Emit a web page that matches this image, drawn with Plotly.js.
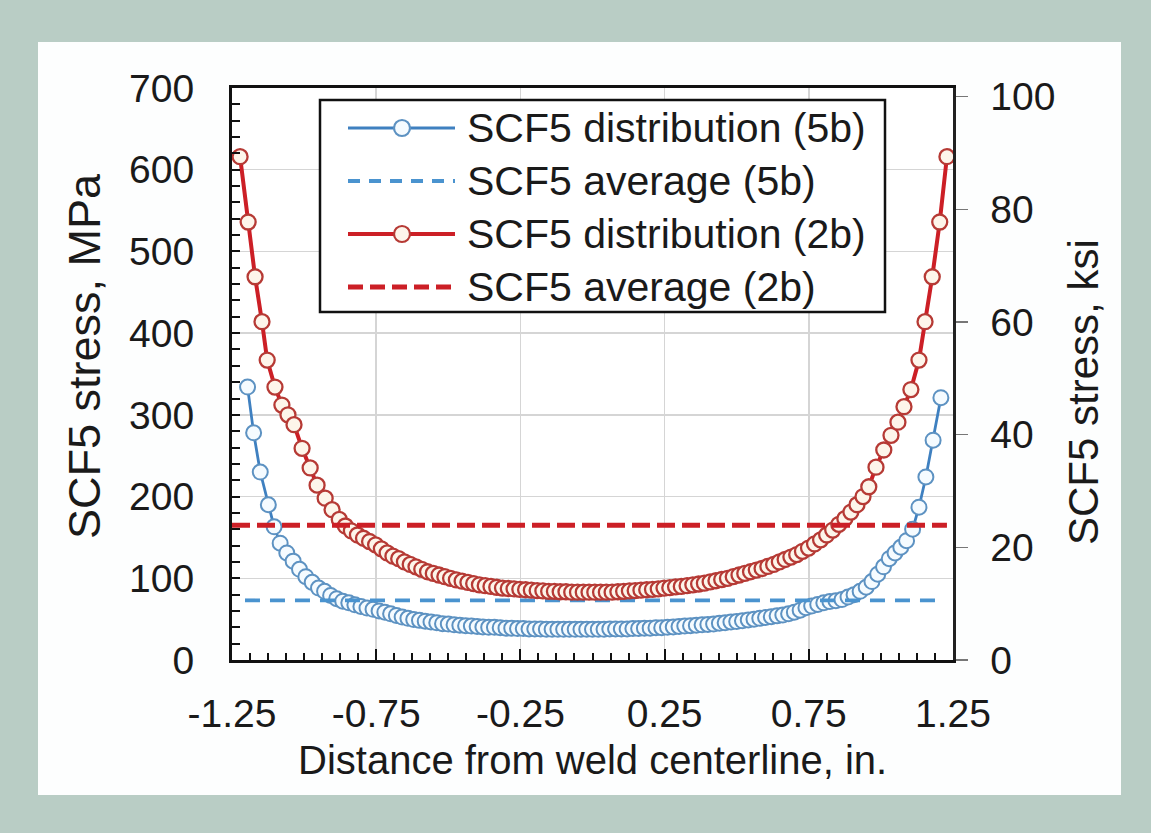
<!DOCTYPE html>
<html>
<head>
<meta charset="utf-8">
<script src="https://cdn.plot.ly/plotly-3.0.1.min.js"></script>
<style>
html, body { margin:0; padding:0; width:1151px; height:833px; background:#b9cdc5; overflow:hidden; }
#chart { position:absolute; left:38px; top:42px; width:1083px; height:753px; background:#fdfefe; }
</style>
</head>
<body>
<div id="chart"></div>
<script>
// ---------------- data ----------------
// SCF5 distribution (2b), distance in inches, stress in MPa
const x2b = [
 -1.222,-1.194,-1.170,-1.146,-1.128,-1.101,-1.077,-1.056,-1.035,-1.007,
 -0.979,-0.955,-0.927,-0.903,-0.878,-0.857,-0.836,-0.815,-0.794,-0.773,
 -0.752,-0.732,-0.712,-0.692,-0.672,-0.652,-0.632,-0.612,-0.592,-0.572,
 -0.552,-0.532,-0.512,-0.492,-0.472,-0.452,-0.432,-0.412,-0.392,-0.372,
 -0.352,-0.332,-0.312,-0.292,-0.272,-0.252,-0.232,-0.212,-0.192,-0.172,
 -0.152,-0.132,-0.112,-0.092,-0.072,-0.052,-0.032,-0.012, 0.008, 0.028,
  0.048, 0.068, 0.088, 0.108, 0.128, 0.148, 0.168, 0.188, 0.208, 0.228,
  0.248, 0.268, 0.288, 0.308, 0.328, 0.348, 0.368, 0.388, 0.408, 0.428,
  0.448, 0.468, 0.488, 0.508, 0.528, 0.548, 0.568, 0.588, 0.608, 0.628,
  0.648, 0.668, 0.688, 0.708, 0.728, 0.749, 0.770, 0.791, 0.812, 0.833,
  0.854, 0.875, 0.896, 0.917, 0.938, 0.958, 0.983, 1.010, 1.035, 1.059,
  1.080, 1.104, 1.132, 1.153, 1.178, 1.204, 1.229
];
const s2b = [
  616, 536, 469, 414, 367, 334, 312, 300, 288, 259,
  235, 214, 198, 184, 172, 164, 158, 153, 149, 145,
  141, 136, 131, 127, 124, 120, 117, 114, 111, 108,
  106, 104, 102, 100, 98, 96.5, 95, 93.5, 92, 91,
  90, 89, 88, 87.5, 87, 86.5, 86, 85.5, 85, 84.5,
  84, 84, 83.5, 83.5, 83, 83, 83, 83, 83, 83,
  83, 83, 83.5, 84, 84.5, 85, 85.5, 86, 86.5, 87,
  88, 88.5, 89.5, 90, 91, 92, 93, 94, 95.5, 97,
  98.5, 100, 102, 104, 106, 108, 110, 112, 114.5, 117,
  120, 123, 126, 129, 133, 137, 142, 147, 153, 159,
  166, 173, 181, 190, 200, 212, 236, 257, 275, 291,
  310, 331, 367, 414, 469, 536, 616
];
// SCF5 distribution (5b)
const x5b = [
 -1.196,-1.175,-1.152,-1.124,-1.104,-1.083,-1.060,-1.038,-1.016,-0.994,
 -0.972,-0.950,-0.929,-0.908,-0.887,-0.866,-0.845,-0.824,-0.803,-0.782,
 -0.761,-0.740,-0.720,-0.700,-0.680,-0.660,-0.640,-0.620,-0.600,-0.580,
 -0.560,-0.540,-0.520,-0.500,-0.480,-0.460,-0.440,-0.420,-0.400,-0.380,
 -0.360,-0.340,-0.320,-0.300,-0.280,-0.260,-0.240,-0.220,-0.200,-0.180,
 -0.160,-0.140,-0.120,-0.100,-0.080,-0.060,-0.040,-0.020, 0.000, 0.020,
  0.040, 0.060, 0.080, 0.100, 0.120, 0.140, 0.160, 0.180, 0.200, 0.220,
  0.240, 0.260, 0.280, 0.300, 0.320, 0.340, 0.360, 0.380, 0.400, 0.420,
  0.440, 0.460, 0.480, 0.500, 0.520, 0.540, 0.560, 0.580, 0.600, 0.620,
  0.640, 0.660, 0.680, 0.700, 0.720, 0.740, 0.760, 0.781, 0.802, 0.823,
  0.844, 0.865, 0.886, 0.907, 0.928, 0.949, 0.969, 0.989, 1.009, 1.029,
  1.049, 1.069, 1.089, 1.110, 1.132, 1.156, 1.181, 1.208
];
const s5b = [
  334, 278, 230, 190, 163, 143, 131, 121, 111, 102,
  95, 88, 84, 79, 75, 72, 70, 67.5, 65.5, 63.5,
  62, 60, 58.5, 56.5, 54.5, 52.5, 51, 49.5, 48.5, 47.5,
  46.5, 45.5, 44.5, 44, 43, 42.5, 42, 41.5, 41, 40.5,
  40, 40, 39.5, 39, 39, 38.5, 38.5, 38, 38, 38,
  37.5, 37.5, 37.5, 37.5, 37.5, 37.5, 37.5, 37.5, 37.5, 37.5,
  37.5, 38, 38, 38, 38, 38.5, 38.5, 39, 39, 39.5,
  39.5, 40, 40.5, 41, 41.5, 42, 42.5, 43, 43.5, 44,
  45, 45.5, 46.5, 47, 48, 49, 50, 51, 52, 53,
  54, 55, 56.5, 58.5, 61, 64, 66, 68, 70, 71.5,
  72.5, 74, 77, 80, 84, 89, 96, 105, 114, 124,
  131, 138, 146, 160, 187, 224, 269, 321
];
// SCF5 averages (MPa) and the x extent over which they are drawn
const avg5b = 73;
const avg5bX = [-1.205, 1.205];
const avg2b = 165;
const avg2bX = [-1.25, 1.229];

const seriesNames = ['SCF5 distribution (5b)', 'SCF5 average (5b)', 'SCF5 distribution (2b)', 'SCF5 average (2b)'];
const xTickVals = [-1.25, -0.75, -0.25, 0.25, 0.75, 1.25];
const xTickText = ['-1.25', '-0.75', '-0.25', '0.25', '0.75', '1.25'];
const yTickVals = [0, 100, 200, 300, 400, 500, 600, 700];
const y2TickVals = [0, 20, 40, 60, 80, 100];
const yMax = 700;             // MPa
const MPA_PER_KSI = 6.894757;
const xTitle = 'Distance from weld centerline, in.';
const yTitle = 'SCF5 stress, MPa';
const y2Title = 'SCF5 stress, ksi';

// ---------------- styling ----------------
const FONT = 'Liberation Sans, Arial, Helvetica, sans-serif';
const TXT = '#1a1a1a';
const RED = '#cc1f26', RED_MK = '#b63a35', RED_FILL = '#fdf5ea';
const BLUE = '#3f80c0', BLUE_MK = '#5d92c2', BLUE_FILL = '#f5fbff', BLUE_DASH = '#4a93cf';

// page-pixel -> paper helpers (plot area spans 232..953 x 88..660 on the page)
const PL = 232, PR = 953, PT = 88, PB = 660;
const px = X => (X - PL) / (PR - PL);
const py = Y => (PB - Y) / (PB - PT);

const traces = [
  {x: x5b, y: s5b, type: 'scatter', mode: 'lines+markers', name: seriesNames[0],
   line: {color: BLUE, width: 2.8},
   marker: {symbol: 'circle', size: 15, color: BLUE_FILL, line: {color: BLUE_MK, width: 2}}},
  {x: avg5bX, y: [avg5b, avg5b], type: 'scatter', mode: 'lines', name: seriesNames[1],
   line: {color: BLUE_DASH, width: 3.8, dash: '15px,10px'}},
  {x: x2b, y: s2b, type: 'scatter', mode: 'lines+markers', name: seriesNames[2],
   line: {color: RED, width: 4},
   marker: {symbol: 'circle', size: 15, color: RED_FILL, line: {color: RED_MK, width: 2.3}}},
  {x: avg2bX, y: [avg2b, avg2b], type: 'scatter', mode: 'lines', name: seriesNames[3],
   line: {color: RED, width: 5, dash: '18px,7px'}},
  {x: [null], y: [null], yaxis: 'y2', type: 'scatter', mode: 'lines', showlegend: false, hoverinfo: 'skip'}
];

// legend drawn by hand so the sample lines match the original's long samples
const rowY = [128, 181, 234, 287];
const rowStyle = [
  {color: BLUE, width: 2.8, dash: 'solid', marker: true, mk: BLUE_MK, fill: BLUE_FILL},
  {color: BLUE_DASH, width: 3.8, dash: '12px,9px', marker: false},
  {color: RED, width: 4, dash: 'solid', marker: true, mk: RED_MK, fill: RED_FILL},
  {color: RED, width: 5, dash: '15px,7px', marker: false}
];
const shapes = [{type: 'rect', xref: 'paper', yref: 'paper', x0: px(320), x1: px(885), y0: py(312), y1: py(100),
  line: {color: '#111', width: 2.5}, fillcolor: '#ffffff', layer: 'above'}];
const annotations = [];
rowY.forEach((Y, i) => {
  const st = rowStyle[i];
  shapes.push({type: 'line', xref: 'paper', yref: 'paper', x0: px(348), x1: px(455), y0: py(Y), y1: py(Y),
    line: {color: st.color, width: st.width, dash: st.dash}, layer: 'above'});
  if (st.marker) {
    shapes.push({type: 'circle', xref: 'paper', yref: 'paper', x0: px(394), x1: px(410), y0: py(Y + 8), y1: py(Y - 8),
      line: {color: st.mk, width: 2.2}, fillcolor: st.fill, layer: 'above'});
  }
  annotations.push({xref: 'paper', yref: 'paper', x: px(465), y: py(Y), xanchor: 'left', yanchor: 'middle',
    text: seriesNames[i], showarrow: false, font: {family: FONT, size: 41, color: TXT}});
});
annotations.push({xref: 'paper', yref: 'paper', x: px(592), y: py(760), xanchor: 'center', yanchor: 'middle',
  text: xTitle, showarrow: false, font: {family: FONT, size: 40, color: TXT}});
annotations.push({xref: 'paper', yref: 'paper', x: px(84), y: py(356), xanchor: 'center', yanchor: 'middle',
  textangle: -90, text: yTitle, showarrow: false, font: {family: FONT, size: 45, color: TXT}});
annotations.push({xref: 'paper', yref: 'paper', x: px(1083), y: py(392), xanchor: 'center', yanchor: 'middle',
  textangle: -90, text: y2Title, showarrow: false, font: {family: FONT, size: 42, color: TXT}});

const layout = {
  width: 1083, height: 753,
  margin: {l: 194, r: 168, t: 46, b: 135, pad: 0},
  paper_bgcolor: '#fdfefe', plot_bgcolor: '#ffffff',
  showlegend: false,
  font: {family: FONT, color: TXT},
  xaxis: {
    range: [-1.25, 1.25], tickmode: 'array', tickvals: xTickVals, ticktext: xTickText,
    ticks: 'inside', ticklen: 11, tickwidth: 2, tickcolor: '#111',
    showline: true, linecolor: '#111', linewidth: 3, mirror: true,
    showgrid: true, gridcolor: '#d5d5d5', gridwidth: 1.5, zeroline: false,
    tickfont: {family: FONT, size: 39, color: TXT}, ticklabelstandoff: 17,
    minor: {tick0: -1.25, dtick: 0.0625, ticks: 'inside', ticklen: 7, tickwidth: 2, tickcolor: '#111', showgrid: false}
  },
  yaxis: {
    range: [0, yMax], tickmode: 'array', tickvals: yTickVals,
    ticks: 'inside', ticklen: 8, tickwidth: 2, tickcolor: '#111',
    showline: true, linecolor: '#111', linewidth: 3,
    showgrid: true, gridcolor: '#d5d5d5', gridwidth: 1.5, zeroline: false,
    tickfont: {family: FONT, size: 39, color: TXT}, ticklabelstandoff: 27,
    minor: {tick0: 0, dtick: 20, ticks: 'inside', ticklen: 8, tickwidth: 2, tickcolor: '#111', showgrid: false}
  },
  yaxis2: {
    overlaying: 'y', side: 'right', range: [0, yMax / MPA_PER_KSI],
    tickmode: 'array', tickvals: y2TickVals,
    ticks: 'outside', ticklen: 12, tickwidth: 1.5, tickcolor: '#777',
    showline: true, linecolor: '#222', linewidth: 2.5,
    showgrid: false, zeroline: false,
    tickfont: {family: FONT, size: 39, color: TXT}, ticklabelstandoff: 15
  },
  shapes: shapes,
  annotations: annotations
};

Plotly.newPlot('chart', traces, layout, {displayModeBar: false, staticPlot: true});
</script>
</body>
</html>
